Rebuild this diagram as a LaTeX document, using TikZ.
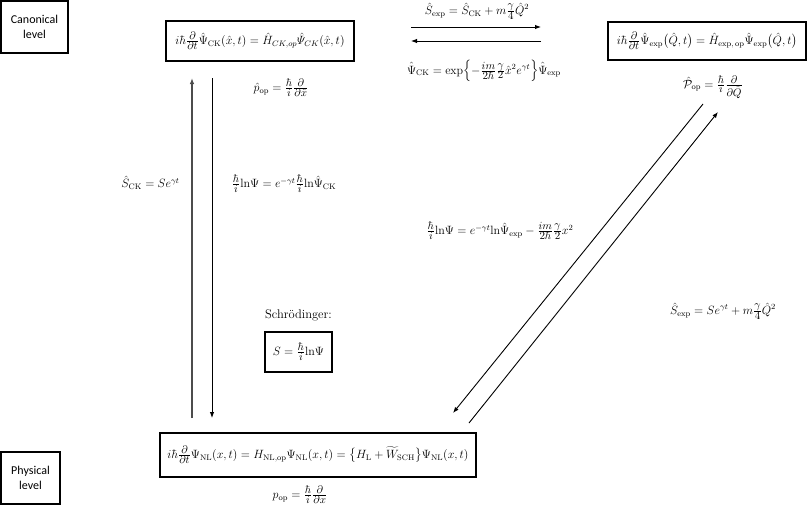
\documentclass[tikz,border=0pt]{standalone}
\usepackage{amsmath,amssymb}
\usepackage{fontspec}
\newfontfamily\calibri{Carlito}
\usetikzlibrary{arrows.meta}
\newcommand\fr[2]{\frac{\hbox{\fontsize{10.5}{11}\selectfont$#1$}}{\hbox{\fontsize{10.5}{11}\selectfont$#2$}}}
\newcommand\lnn{\mathrm{ln}}
\tikzset{
  eq/.style={font=\fontsize{12}{14}\selectfont, inner sep=1pt},
  eqbox/.style={draw, line width=1.3pt, font=\fontsize{12}{14}\selectfont, inner sep=0pt},
  lvl/.style={draw, line width=1.8pt, font=\calibri\fontsize{12}{15}\selectfont, align=center, inner sep=0pt},
  arr/.style={-{Latex[length=6pt,width=4.5pt]}, line width=0.9pt},
}
\begin{document}
\begin{tikzpicture}[x=1pt,y=-1pt]
\useasboundingbox (0,0) rectangle (808,512);
% level boxes
\node[lvl, minimum width=67pt, minimum height=52pt] (canon) at (34.5,27) {Canonical\\level};
\node[lvl, minimum width=59pt, minimum height=52pt] (phys) at (30.5,478) {Physical\\level};
% equation boxes
\node[eqbox, minimum width=188pt, minimum height=40pt] (ck) at (260,41)
  {$i\hbar\fr{\partial}{\partial t}\hat{\Psi}_{\mathrm{CK}}(\hat x,t) = \hat H_{CK,op}\hat{\varPsi}_{CK}(\hat x,t)$};
\node[eqbox, minimum width=198pt, minimum height=38pt] (ex) at (707,41)
  {$i\hbar\fr{\partial}{\partial t}\hat{\Psi}_{\mathrm{exp}}\bigl(\hat Q,t\bigr) = \hat H_{\mathrm{exp,\,op}}\hat{\Psi}_{\mathrm{exp}}\bigl(\hat Q,t\bigr)$};
\node[eqbox, minimum width=316pt, minimum height=44pt] (nl) at (318,455)
  {$i\hbar\fr{\partial}{\partial t}\Psi_{\mathrm{NL}}(x,t) = H_{\mathrm{NL,op}}\Psi_{\mathrm{NL}}(x,t) = \bigl\{H_{\mathrm L} + \widetilde W_{\mathrm{SCH}}\bigr\}\Psi_{\mathrm{NL}}(x,t)$};
\node[eqbox, minimum width=67pt, minimum height=40pt] (sbox) at (298.5,352)
  {$S = \fr{\hbar}{i}\lnn\Psi$};
% labels
\node[eq] (pop) at (281,88) {$\hat p_{\mathrm{op}} = \fr{\hbar}{i}\fr{\partial}{\partial\hat x}$};
\node[eq] (sexp) at (477,11) {$\hat S_{\mathrm{exp}} = \hat S_{\mathrm{CK}} + m\fr{\gamma}{4}\hat Q^2$};
\node[eq] (psick) at (484,71) {$\hat\Psi_{\mathrm{CK}} = \exp\!\left\{-\fr{im}{2\hbar}\fr{\gamma}{2}\hat x^2 e^{\gamma t}\right\}\!\hat\Psi_{\mathrm{exp}}$};
\node[eq] (Pop) at (713,87) {$\hat{\mathcal P}_{\mathrm{op}} = \fr{\hbar}{i}\fr{\partial}{\partial\hat Q}$};
\node[eq] (sck) at (150.5,183) {$\hat S_{\mathrm{CK}} = Se^{\gamma t}$};
\node[eq] (lnck) at (284,184) {$\fr{\hbar}{i}\lnn\Psi = e^{-\gamma t}\fr{\hbar}{i}\lnn\hat\Psi_{\mathrm{CK}}$};
\node[eq] (lnexp) at (500,231) {$\fr{\hbar}{i}\lnn\Psi = e^{-\gamma t}\lnn\hat\Psi_{\mathrm{exp}} - \fr{im}{2\hbar}\fr{\gamma}{2}x^2$};
\node[eq] (sexp2) at (723,311) {$\hat S_{\mathrm{exp}} = Se^{\gamma t} + m\fr{\gamma}{4}\hat Q^2$};
\node[eq, font=\fontsize{12.5}{15}\selectfont] (schr) at (298.5,315) {Schrödinger:};
\node[eq] (ppop) at (300,495) {$p_{\mathrm{op}} = \fr{\hbar}{i}\fr{\partial}{\partial x}$};
% connector end points
\coordinate (v1a) at (192,418); \coordinate (v1b) at (192,78);
\coordinate (v2a) at (212,78);  \coordinate (v2b) at (212,418);
\coordinate (h1a) at (411,27);  \coordinate (h1b) at (541,27);
\coordinate (h2a) at (541,41);  \coordinate (h2b) at (411,41);
\coordinate (d1a) at (703,104); \coordinate (d1b) at (453,413);
\coordinate (d2a) at (469,423); \coordinate (d2b) at (718,112);
% connectors
\draw[arr, line width=1.3pt, draw=black!70] (v1a) -- (v1b);
\draw[arr] (v2a) -- (v2b);
\draw[arr] (h1a) -- (h1b);
\draw[arr] (h2a) -- (h2b);
\draw[arr] (d1a) -- (d1b);
\draw[arr] (d2a) -- (d2b);
\end{tikzpicture}
\end{document}
